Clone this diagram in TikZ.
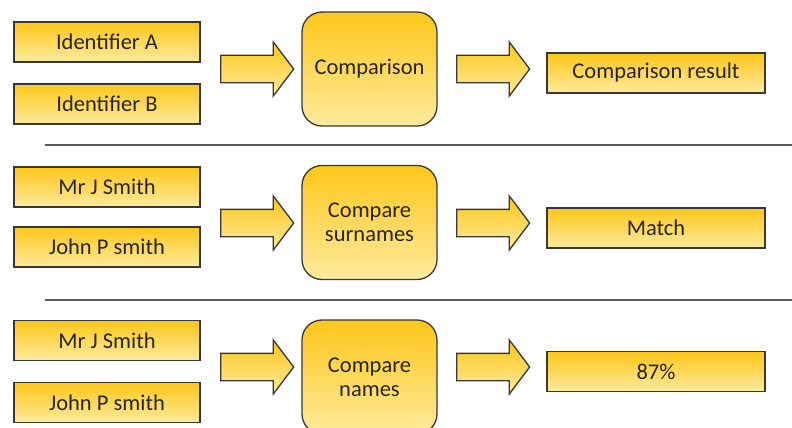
\documentclass[tikz,border=0pt]{standalone}
\usepackage{fontspec}
\setmainfont{Carlito}
\usetikzlibrary{shapes.arrows}

\definecolor{goldtop}{HTML}{FFC71A}
\definecolor{goldbot}{HTML}{FFEA9E}
\definecolor{edgegray}{HTML}{383838}
\definecolor{rulegray}{HTML}{5C5C5C}

\tikzset{
  idbox/.style={draw=edgegray, line width=1.3pt, top color=goldtop, bottom color=goldbot,
    minimum width=186pt, minimum height=40pt, inner sep=0pt,
    font=\fontsize{22.5}{24}\selectfont, text=black!85},
  cmpbox/.style={idbox, rounded corners=20pt, minimum width=135pt, minimum height=114pt, align=center},
  resbox/.style={idbox, minimum width=218pt},
  barrow/.style={single arrow, draw=edgegray, line width=1.3pt, top color=goldtop, bottom color=goldbot,
    minimum height=73pt, inner xsep=0pt, inner ysep=13pt, single arrow head extend=13.5pt,
    single arrow tip angle=106, anchor=tail},
  sepline/.style={draw=rulegray, line width=2pt}
}

\begin{document}
\begin{tikzpicture}[x=1pt,y=-1pt]
  \useasboundingbox (0,0) rectangle (792,428);

  % generic case
  \node[idbox]  (idA)  at (107,42)    {Identifier A};
  \node[idbox]  (idB)  at (107,104)   {Identifier B};
  \node[barrow] (arA1) at (220,69)    {};
  \node[cmpbox] (cmpA) at (369.5,69)  {Comparison};
  \node[barrow] (arA2) at (456,69)    {};
  \node[resbox] (resA) at (656,73)    {Comparison result};

  \draw[sepline] (45,145) -- (792,145);

  % surnames
  \node[idbox]  (idC)  at (107,187)   {Mr J Smith};
  \node[idbox]  (idD)  at (107,247)   {John P smith};
  \node[barrow] (arB1) at (220,223)   {};
  \node[cmpbox] (cmpB) at (369.5,222.5) {Compare\\surnames};
  \node[barrow] (arB2) at (456,223)   {};
  \node[resbox] (resB) at (656,228)   {Match};

  \draw[sepline] (45,300) -- (792,300);

  % full names
  \node[idbox]  (idE)  at (107,340.5) {Mr J Smith};
  \node[idbox]  (idF)  at (107,402.5) {John P smith};
  \node[barrow] (arC1) at (220,367)   {};
  \node[cmpbox] (cmpC) at (369.5,377) {Compare\\names};
  \node[barrow] (arC2) at (456,367)   {};
  \node[resbox] (resC) at (656,371.5) {87\%};
\end{tikzpicture}
\end{document}
